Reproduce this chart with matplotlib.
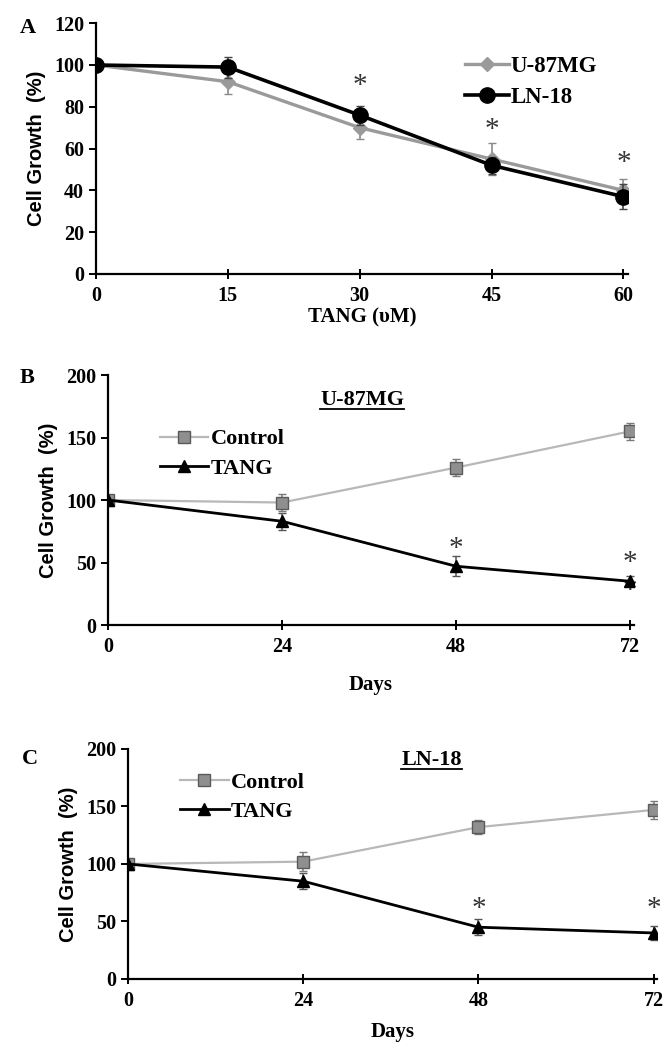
import matplotlib
matplotlib.use("Agg")
import matplotlib.pyplot as plt
from matplotlib.lines import Line2D

# ---------------- data ----------------
conc = [0, 15, 30, 45, 60]
u87_a = [100, 92, 70, 55, 40]
u87_a_err = [0, 6, 5.5, 7.5, 5.5]
ln18_a = [100, 99, 76, 52, 37]
ln18_a_err = [0, 5, 4.5, 4, 6]
star_a_x = [30, 45, 60]
star_a_y = [90, 69, 53]

days = [0, 24, 48, 72]
ctrl_b = [100, 98, 126, 155]
ctrl_b_err = [0, 7, 7, 7]
tang_b = [100, 83, 47, 35]
tang_b_err = [0, 7, 8, 4]
star_b_x = [48, 72, 72]
star_b_y = [61, 50, 27]

ctrl_c = [100, 102, 132, 147]
ctrl_c_err = [0, 8, 6, 8]
tang_c = [100, 85, 45, 40]
tang_c_err = [0, 7, 7, 6]
star_c_x = [48, 72]
star_c_y = [61, 61]

serif = "Liberation Serif"
sans = "Liberation Sans"

fig = plt.figure(figsize=(6.64, 10.45), dpi=100)

def style_axes(ax, xticks, yticks, xlim, ylim):
    for s in ["top", "right"]:
        ax.spines[s].set_visible(False)
    for s in ["left", "bottom"]:
        ax.spines[s].set_linewidth(1.6)
    ax.set_xticks(xticks)
    ax.set_yticks(yticks)
    ax.set_xlim(*xlim)
    ax.set_ylim(*ylim)
    ax.tick_params(axis="both", length=5, width=1.4, labelsize=14.5)
    ax.tick_params(axis="x", direction="inout", length=7, pad=5)
    for lab in ax.get_xticklabels() + ax.get_yticklabels():
        lab.set_fontfamily(serif)
        lab.set_fontweight("bold")
    ax.set_ylabel("Cell Growth  (%)", fontfamily=sans, fontweight="bold",
                  fontsize=14.5, labelpad=6)

# ---------------- Panel A ----------------
axA = fig.add_axes([0.1446, 0.7378, 0.801, 0.240])
axA.errorbar(conc, u87_a, yerr=u87_a_err, color="#9a9a9a", lw=2.4,
             marker="D", ms=7, mfc="#9a9a9a", mec="#9a9a9a",
             ecolor="#8a8a8a", elinewidth=1.2, capsize=3, zorder=2,
             label="U-87MG")
axA.errorbar(conc, ln18_a, yerr=ln18_a_err, color="black", lw=2.6,
             marker="o", ms=11, mfc="black", mec="black",
             ecolor="#444444", elinewidth=1.2, capsize=3, zorder=3,
             label="LN-18")
style_axes(axA, conc, range(0, 121, 20), (0, 60.5), (0, 120))
axA.set_xlabel("TANG (υM)", fontfamily=serif, fontweight="bold",
               fontsize=15, labelpad=1)
for x, y in zip(star_a_x, star_a_y):
    axA.text(x, y, "*", ha="center", va="center", fontsize=21,
             fontfamily=serif, color="#333333")
handlesA = [Line2D([], [], color="#9a9a9a", lw=2.4, marker="D", ms=7),
            Line2D([], [], color="black", lw=2.6, marker="o", ms=11)]
axA.legend(handlesA, ["U-87MG", "LN-18"], loc="center left",
           bbox_to_anchor=(0.655, 0.765), frameon=False, handlelength=1.9,
           handletextpad=0.1, labelspacing=0.45,
           prop={"family": serif, "weight": "bold", "size": 16.5})
fig.text(0.03, 0.973, "A", fontfamily=serif, fontweight="bold",
         fontsize=16, ha="left", va="center")

# ---------------- Panel B / C ----------------
def panel_bc(rect, ctrl, ctrl_err, tang, tang_err, sx, sy, title, tx, ty,
             leg_anchor, letter, letter_xy, xpad):
    ax = fig.add_axes(rect)
    ax.errorbar(days, ctrl, yerr=ctrl_err, color="#b8b8b8", lw=1.6,
                marker="s", ms=9, mfc="#8f8f8f", mec="#5a5a5a", mew=1.0,
                ecolor="#7a7a7a", elinewidth=1.1, capsize=3, zorder=2)
    ax.errorbar(days, tang, yerr=tang_err, color="black", lw=2.0,
                marker="^", ms=9, mfc="black", mec="black",
                ecolor="#555555", elinewidth=1.1, capsize=3, zorder=3)
    style_axes(ax, days, range(0, 201, 50), (0, 72.5), (0, 200))
    ax.set_xlabel("Days", fontfamily=serif, fontweight="bold",
                  fontsize=15, labelpad=xpad)
    for x, y in zip(sx, sy):
        ax.text(x, y, "*", ha="center", va="center", fontsize=21,
                fontfamily=serif, color="#333333", zorder=1)
    t = ax.text(tx, ty, title, ha="center", va="center", fontfamily=serif,
                fontweight="bold", fontsize=16)
    handles = [Line2D([], [], color="#b8b8b8", lw=1.6, marker="s", ms=8,
                      mfc="#8f8f8f", mec="#5a5a5a"),
               Line2D([], [], color="black", lw=2.0, marker="^", ms=8)]
    ax.legend(handles, ["Control", "TANG"], loc="center left",
              bbox_to_anchor=leg_anchor, frameon=False, handlelength=2.2,
              handletextpad=0.1, labelspacing=0.4,
              prop={"family": serif, "weight": "bold", "size": 16})
    fig.text(letter_xy[0], letter_xy[1], letter, fontfamily=serif,
             fontweight="bold", fontsize=16, ha="left", va="center")
    return ax, t

axB, tB = panel_bc([0.1627, 0.4019, 0.792, 0.2392], ctrl_b, ctrl_b_err,
                   tang_b, tang_b_err, star_b_x, star_b_y, "U-87MG", 35, 180,
                   (0.06, 0.685), "B", (0.03, 0.638), 13)
axC, tC = panel_bc([0.1928, 0.0632, 0.797, 0.2201], ctrl_c, ctrl_c_err,
                   tang_c, tang_c_err, star_c_x, star_c_y, "LN-18", 41.6, 190,
                   (0.06, 0.79), "C", (0.033, 0.274), 8)

# underline the panel titles
fig.canvas.draw()
for ax, t in [(axB, tB), (axC, tC)]:
    bb = t.get_window_extent().transformed(ax.transAxes.inverted())
    ax.plot([bb.x0, bb.x1], [bb.y0 + 0.005, bb.y0 + 0.005], color="black",
            lw=1.3, transform=ax.transAxes, clip_on=False)

fig.savefig("out.png", dpi=100)
